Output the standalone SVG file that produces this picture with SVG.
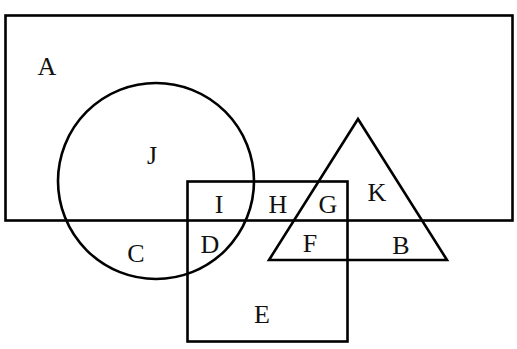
<svg xmlns="http://www.w3.org/2000/svg" width="517" height="349" viewBox="0 0 517 349">
<style>
.s{fill:none;stroke:#000;stroke-width:2.6}
text{font-family:"Liberation Serif","Times New Roman",serif;font-size:26px;fill:#111;text-anchor:middle}
</style>
<rect width="517" height="349" fill="#fff"/>
<g id="A"><rect class="s" x="5.5" y="15.5" width="507" height="205"/><text x="47" y="75">A</text></g>
<g id="J"><circle class="s" cx="156" cy="181" r="98"/><text x="152" y="164">J</text></g>
<g id="E"><rect class="s" x="187.5" y="181.5" width="160" height="160"/><text x="262" y="323">E</text></g>
<g id="K"><polygon class="s" points="358,119 269,260 447,260"/><text x="377" y="201">K</text></g>
<g id="labels">
<text x="219" y="213">I</text>
<text x="278" y="213">H</text>
<text x="328" y="213">G</text>
<text x="210" y="253">D</text>
<text x="310" y="252">F</text>
<text x="401" y="254">B</text>
<text x="136" y="262">C</text>
</g>
<g id="connectors"/>
</svg>
